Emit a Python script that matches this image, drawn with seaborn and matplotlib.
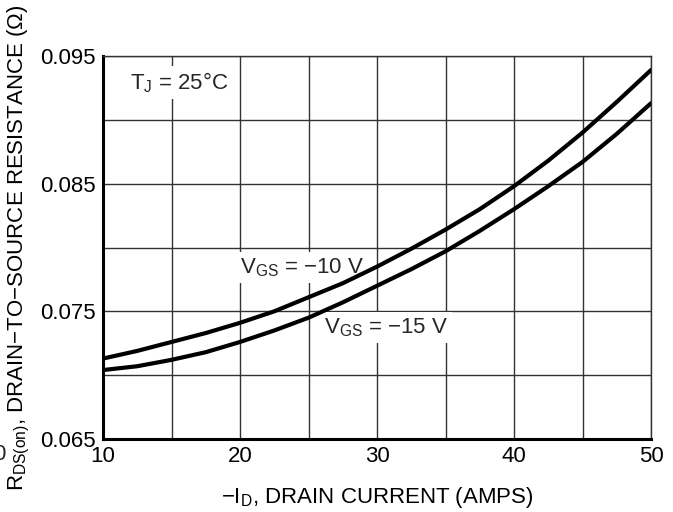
import matplotlib
matplotlib.use("Agg")
import matplotlib.pyplot as plt
import seaborn as sns
import pandas as pd

# Data
current = [10, 12.5, 15, 17.5, 20, 22.5, 25, 27.5, 30, 32.5, 35, 37.5, 40, 42.5, 45, 47.5, 50]
r_vgs10 = [0.0713, 0.0719, 0.0726, 0.0733, 0.0741, 0.0750, 0.0761, 0.0772, 0.0785,
           0.0799, 0.0814, 0.0830, 0.0848, 0.0868, 0.0890, 0.0914, 0.0939]
r_vgs15 = [0.0704, 0.0707, 0.0712, 0.0718, 0.0726, 0.0735, 0.0745, 0.0757, 0.0770,
           0.0783, 0.0797, 0.0813, 0.0830, 0.0848, 0.0867, 0.0889, 0.0913]
x_ticks = [10, 20, 30, 40, 50]
y_ticks = [0.065, 0.075, 0.085, 0.095]
x_grid = [10, 15, 20, 25, 30, 35, 40, 45, 50]
y_grid = [0.065, 0.070, 0.075, 0.080, 0.085, 0.090, 0.095]

sns.set_theme(style="white")
plt.rcParams["font.family"] = ["Liberation Sans", "DejaVu Sans"]
plt.rcParams["mathtext.fontset"] = "custom"
plt.rcParams["mathtext.rm"] = "Liberation Sans"
plt.rcParams["mathtext.it"] = "Liberation Sans:italic"

df = pd.DataFrame({
    "current": current * 2,
    "r": r_vgs10 + r_vgs15,
    "vgs": ["-10"] * len(current) + ["-15"] * len(current),
})

FS = 16

fig = plt.figure(figsize=(6.73, 5.12), dpi=100)
ax = fig.add_axes([103 / 673, 1 - 439 / 512, 548 / 673, 383 / 512])

sns.lineplot(data=df, x="current", y="r", hue="vgs", palette=["black", "black"],
             linewidth=3.0, legend=False, ax=ax, zorder=4)

ax.set_xlim(10, 50)
ax.set_ylim(0.065, 0.095)
ax.set_xticks(x_ticks)
ax.set_yticks(y_ticks)
ax.set_xticks(x_grid, minor=True)
ax.set_yticks(y_grid, minor=True)
ax.set_xticklabels([str(v) for v in x_ticks])
ax.set_yticklabels([f"{v:.3f}" for v in y_ticks])
ax.grid(which="both", color="#333333", linewidth=1.0, zorder=1)
ax.set_axisbelow(True)
ax.tick_params(which="both", length=0, labelsize=FS, colors="black", pad=5)

for side in ["left", "bottom"]:
    ax.spines[side].set_linewidth(2.2)
    ax.spines[side].set_color("black")
for side in ["top", "right"]:
    ax.spines[side].set_linewidth(1.0)
    ax.spines[side].set_color("#333333")

ax.set_xlabel(r"−I$_{\mathrm{D}}$, DRAIN CURRENT (AMPS)", fontsize=FS, color="black", labelpad=13)
ax.set_ylabel(r"R$_{\mathrm{DS(on)}}$, DRAIN−TO−SOURCE RESISTANCE (Ω)", fontsize=FS,
              color="black", labelpad=6)

box = dict(facecolor="white", edgecolor="none", pad=3)
ax.text(15.55, 0.0929, r"T$_{\mathrm{J}}$ = 25°C", fontsize=FS, ha="center", va="center",
        bbox=box, zorder=3)
ax.text(24.5, 0.0784, r"V$_{\mathrm{GS}}$ = −10 V", fontsize=FS, ha="center", va="center",
        bbox=box, zorder=3)
ax.text(30.65, 0.0737, r"V$_{\mathrm{GS}}$ = −15 V", fontsize=FS, ha="center", va="center",
        bbox=box, zorder=3)

fig.text(6 / 673, 1 - 455 / 512, "0", fontsize=FS, ha="right", va="center")

fig.savefig("out.png", dpi=100)
